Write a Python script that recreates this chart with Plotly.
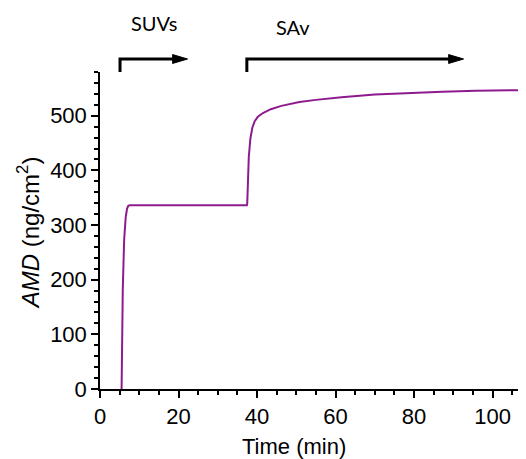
"""
AMD vs time curve (SUVs then SAv injection)
"""
import plotly.graph_objects as go

# data
time_min = [5.5, 5.8, 6.15, 6.55, 6.9, 7.2, 7.6, 10, 15, 20, 25, 30, 35, 37.4,
            37.5, 37.7, 37.9, 38.3, 38.8, 39.4, 40.2, 41.5, 43.5, 46.2, 50.8,
            55, 61.5, 70, 78.6, 87.2, 95.7, 102, 108.5]
amd = [0, 181, 273, 315, 330, 335, 336, 336, 336, 336.5, 337, 336.5, 336, 336,
       340, 380, 425, 458, 478, 490, 498, 505, 512, 518, 525,
       529, 534, 539, 542, 544, 545.5, 546.5, 547]

x_ticks = [0, 20, 40, 60, 80, 100]
y_ticks = [0, 100, 200, 300, 400, 500]

# injection brackets: (start, arrow tip, label, label x, label y)
injections = [(5.1, 22.3, "SUVs", 13.8, 1.156),
              (37.4, 92.6, "SAv", 49.2, 1.143)]

LINE_COLOR = "#8E1B8E"
FONT = "Liberation Sans, Arial, sans-serif"
HEAD = 3.8  # arrow head length, minutes

fig = go.Figure()
fig.add_trace(go.Scatter(x=time_min, y=amd, mode="lines",
                         line=dict(color=LINE_COLOR, width=2),
                         showlegend=False))

axis_common = dict(
    showline=True, linecolor="black", linewidth=1.5,
    showgrid=False, zeroline=False,
    ticks="outside", ticklen=7, tickwidth=1.5, tickcolor="black",
    tickfont=dict(family=FONT, size=22, color="black"),
)

fig.update_xaxes(range=[0, 108.5], tickvals=x_ticks,
                 minor=dict(dtick=5, tick0=0, ticks="outside", ticklen=4,
                            tickwidth=1.5, tickcolor="black"),
                 **axis_common)
fig.update_yaxes(range=[0, 580], tickvals=y_ticks,
                 minor=dict(dtick=20, tick0=0, ticks="outside", ticklen=4,
                            tickwidth=1.5, tickcolor="black"),
                 **axis_common)

# brackets with arrows above the plot
for x0, x1, label, lx, ly in injections:
    fig.add_shape(type="path", xref="x", yref="paper",
                  path=f"M {x0},1.0 L {x0},1.041 L {x1 - HEAD},1.041",
                  line=dict(color="black", width=3))
    fig.add_shape(type="path", xref="x", yref="paper",
                  path=f"M {x1 - HEAD},1.027 L {x1},1.041 L {x1 - HEAD},1.055 Z",
                  fillcolor="black", line=dict(color="black", width=1))
    fig.add_annotation(x=lx, y=ly, xref="x", yref="paper", text=label,
                       xanchor="center", yanchor="middle", showarrow=False,
                       font=dict(family="Lato, sans-serif", size=20, color="black"))

fig.add_annotation(x=49.5, y=-0.182, xref="x", yref="paper", text="Time (min)",
                   xanchor="center", yanchor="middle", showarrow=False,
                   font=dict(family=FONT, size=22, color="black"))
fig.add_annotation(x=-0.167, y=0.494, xref="paper", yref="paper",
                   text="<i>AMD</i> (ng/cm<sup>2</sup>)", textangle=-90,
                   xanchor="center", yanchor="middle", showarrow=False,
                   font=dict(family=FONT, size=24, color="black"))

# page body adds an 8px offset, so the figure is 8px smaller than the window
fig.update_layout(
    width=518, height=451,
    margin=dict(l=92, r=0, t=64, b=70),
    plot_bgcolor="white", paper_bgcolor="white",
)

fig.write_html("out.html")
